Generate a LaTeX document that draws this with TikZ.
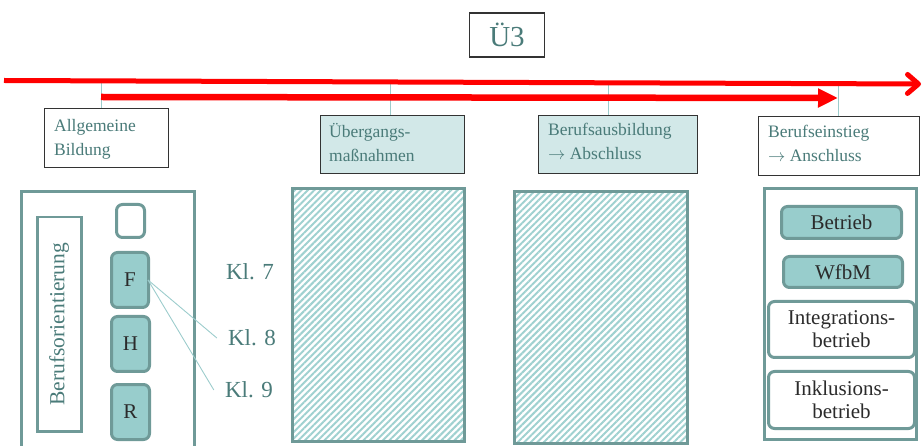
\documentclass[tikz,border=0pt]{standalone}
\usepackage{fontspec}
\setmainfont{Liberation Serif}
\usetikzlibrary{arrows.meta,patterns.meta}
\definecolor{tealtext}{HTML}{4A7B79}
\definecolor{tealborder}{HTML}{6F9A98}
\definecolor{tealfill}{HTML}{98CDCC}
\definecolor{headfill}{HTML}{D2E8E8}
\definecolor{hatch}{HTML}{9FD1D0}
\definecolor{frame}{HTML}{333333}
\definecolor{guide}{HTML}{9CCCCC}
\definecolor{darktext}{HTML}{2B2B2B}
\tikzset{
  headbox/.style={draw=frame, line width=1.2pt, inner sep=0pt, anchor=north west},
  headtext/.style={anchor=north west, align=left, text=tealtext, inner sep=0pt,
    font=\fontsize{17.5}{24}\selectfont},
  bigbox/.style={draw=tealborder, line width=3pt, inner sep=0pt, anchor=north west},
  pill/.style={draw=tealborder, line width=3pt, rounded corners=6pt, inner sep=0pt,
    fill=tealfill, anchor=north west, text=darktext, font=\fontsize{21}{24}\selectfont},
  whitepill/.style={pill, fill=white, align=center, font=\fontsize{21}{23}\selectfont},
  hatched/.style={bigbox, pattern={Lines[angle=45,distance=4.6pt,line width=2pt]}, pattern color=hatch},
  klasse/.style={text=tealtext, font=\fontsize{23}{25}\selectfont, inner sep=0pt},
  redarrow/.style={draw=red, line cap=butt},
  guideline/.style={draw=guide, line width=0.9pt}
}
\begin{document}
\begin{tikzpicture}[x=1pt,y=-1pt]
\useasboundingbox (0,0) rectangle (924,446);

% title
\node[draw=frame, line width=1.2pt, minimum width=75pt, minimum height=44pt,
  text=tealtext, font=\fontsize{29}{31}\selectfont] (title) at (507,35) {Ü3};

% phase headers
\node[headbox, minimum width=124pt, minimum height=59pt, fill=white] (allg) at (44,108) {};
\node[headtext] (allgt) at (54,119) {Allgemeine\\Bildung};
\node[headbox, minimum width=144pt, minimum height=58pt, fill=headfill] (ueb) at (320,115) {};
\node[headtext] (uebt) at (329,123) {Übergangs-\\maßnahmen};
\node[headbox, minimum width=159pt, minimum height=58pt, fill=headfill] (aus) at (538,115) {};
\node[headtext] (aust) at (548,123) {Berufsausbildung\\$\rightarrow$ Abschluss};
\node[headbox, minimum width=161pt, minimum height=59pt, fill=white] (ein) at (758,116) {};
\node[headtext] (eint) at (768,125) {Berufseinstieg\\$\rightarrow$ Anschluss};

% guide lines from the time axis down to the headers
\coordinate (g1) at (101,82);
\coordinate (g2) at (390,84);
\coordinate (g3) at (608,84);
\coordinate (g4) at (838,85);
\draw[guideline] (g1) -- (g1 |- allg.north);
\draw[guideline] (g2) -- (g2 |- ueb.north);
\draw[guideline] (g3) -- (g3 |- aus.north);
\draw[guideline] (g4) -- (g4 |- ein.north);

% time axis arrows
\coordinate (a1s) at (4,80.5);
\coordinate (a1e) at (921,84);
\coordinate (a2s) at (101,97);
\coordinate (a2e) at (838,98);
\draw[redarrow, line width=5pt, -{Straight Barb[length=11pt,width=19pt,round]}] (a1s) -- (a1e);
\draw[redarrow, line width=6.5pt, -{Triangle[length=20pt,width=18pt]}] (a2s) -- (a2e);

% general education column
\node[bigbox, minimum width=173pt, minimum height=258pt] (schule) at (20,190) {};
\node[draw=tealborder, line width=2.5pt, minimum width=44pt, minimum height=214pt, anchor=north west,
  inner sep=0pt] (bo) at (36,216) {};
\node[rotate=90, text=tealtext, font=\fontsize{21.5}{23}\selectfont] (bot) at (bo.center) {Berufsorientierung};
\node[pill, fill=white, minimum width=28pt, minimum height=33pt] (leer) at (115,203) {};
\node[pill, minimum width=37pt, minimum height=55pt] (f) at (110,251) {F};
\node[pill, minimum width=38pt, minimum height=55pt] (h) at (110,315) {H};
\node[pill, minimum width=38pt, minimum height=55pt] (r) at (110,383) {R};

% grades
\node[klasse] (k7) at (250,272) {Kl. 7};
\node[klasse] (k8) at (252,338) {Kl. 8};
\node[klasse] (k9) at (249,390) {Kl. 9};
\coordinate (fe) at (148,280);
\draw[guideline] (fe) -- ([xshift=-11pt]k8.west);
\draw[guideline] (fe) -- ([xshift=-11pt]k9.west);

% hatched phases
\node[hatched, minimum width=172pt, minimum height=252pt] (hat1) at (291,188) {};
\node[hatched, minimum width=173pt, minimum height=252pt] (hat2) at (513,190) {};

% career entry column
\node[bigbox, minimum width=152pt, minimum height=251pt] (ziel) at (763,187) {};
\node[pill, minimum width=120pt, minimum height=32pt] (betrieb) at (780,205) {Betrieb};
\node[pill, minimum width=119pt, minimum height=31pt] (wfbm) at (782,255) {WfbM};
\node[whitepill, minimum width=146pt, minimum height=56pt] (integ) at (767,300) {Integrations-\\betrieb};
\node[whitepill, minimum width=146pt, minimum height=57pt] (inkl) at (767,370) {Inklusions-\\betrieb};
\end{tikzpicture}
\end{document}
